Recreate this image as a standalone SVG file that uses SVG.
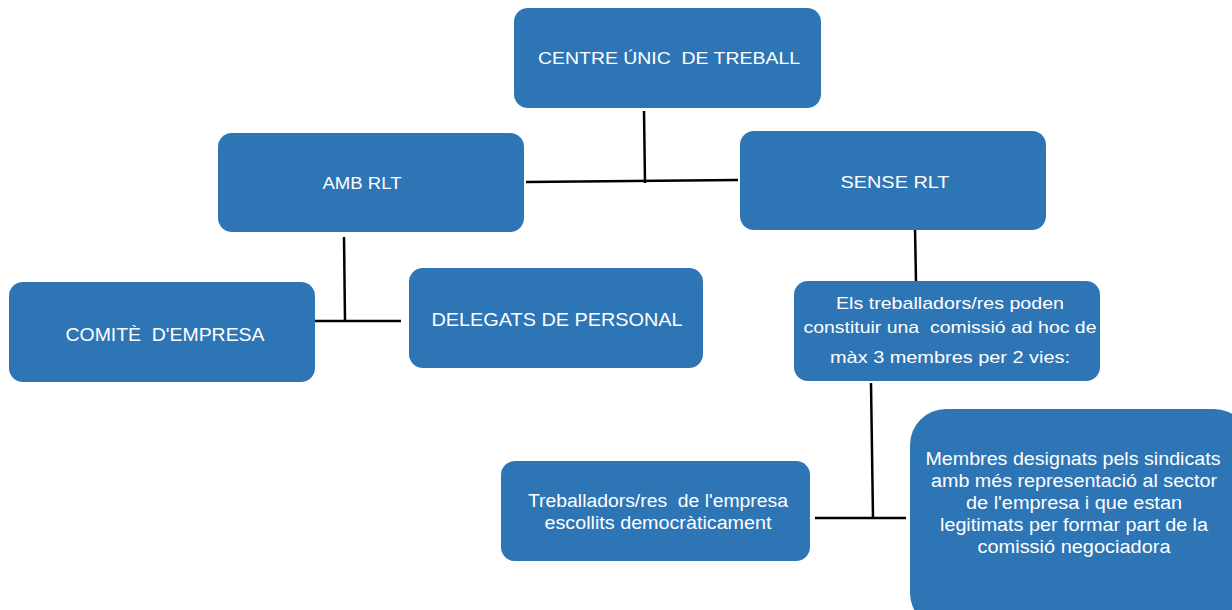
<svg xmlns="http://www.w3.org/2000/svg" width="1232" height="610" viewBox="0 0 1232 610">
<style>
.box{fill:#2E75B6;}
.t{font-family:"Liberation Sans",Arial,sans-serif;font-size:17px;fill:#FFFFFF;text-anchor:middle;}
.n{font-size:18px;}
.c{stroke:#000000;stroke-width:2.5;fill:none;}
</style>
<rect width="1232" height="610" fill="#FFFFFF"/>
<g id="connectors">
<path class="c" d="M644,111 L645,183"/>
<path class="c" d="M526,182 L738,180"/>
<path class="c" d="M344,237 L345,321"/>
<path class="c" d="M312,321 L401,321"/>
<path class="c" d="M915,227 L916,282"/>
<path class="c" d="M871,383 L873,518"/>
<path class="c" d="M815,518 L906,518"/>
</g>
<g id="n1">
<rect class="box" x="514" y="8" width="307" height="100" rx="14"/>
<text class="t" x="669" y="64" textLength="262" lengthAdjust="spacingAndGlyphs" xml:space="preserve">CENTRE ÚNIC  DE TREBALL</text>
</g>
<g id="n2">
<rect class="box" x="218" y="133" width="306" height="99" rx="14"/>
<text class="t" x="362" y="189" textLength="79" lengthAdjust="spacingAndGlyphs">AMB RLT</text>
</g>
<g id="n3">
<rect class="box" x="740" y="131" width="306" height="99" rx="14"/>
<text class="t" x="895" y="188" textLength="109" lengthAdjust="spacingAndGlyphs">SENSE RLT</text>
</g>
<g id="n4">
<rect class="box" x="9" y="282" width="306" height="100" rx="14"/>
<text class="t n" x="165" y="341" textLength="199" lengthAdjust="spacingAndGlyphs" xml:space="preserve">COMITÈ  D'EMPRESA</text>
</g>
<g id="n5">
<rect class="box" x="409" y="268" width="294" height="100" rx="14"/>
<text class="t n" x="557" y="326" textLength="251" lengthAdjust="spacingAndGlyphs">DELEGATS DE PERSONAL</text>
</g>
<g id="n6">
<rect class="box" x="794" y="281" width="306" height="100" rx="14"/>
<text class="t" x="950" y="309" textLength="228" lengthAdjust="spacingAndGlyphs">Els treballadors/res poden</text>
<text class="t" x="950" y="333" textLength="293" lengthAdjust="spacingAndGlyphs" xml:space="preserve">constituir una  comissió ad hoc de</text>
<text class="t" x="950" y="363" textLength="240" lengthAdjust="spacingAndGlyphs">màx 3 membres per 2 vies:</text>
</g>
<g id="n7">
<rect class="box" x="501" y="461" width="309" height="100" rx="14"/>
<text class="t n" x="658" y="507" textLength="260" lengthAdjust="spacingAndGlyphs" xml:space="preserve">Treballadors/res  de l'empresa</text>
<text class="t n" x="658" y="529" textLength="227" lengthAdjust="spacingAndGlyphs">escollits democràticament</text>
</g>
<g id="n8">
<rect class="box" x="910" y="409" width="340" height="220" rx="36"/>
<text class="t n" x="1073" y="465" textLength="295" lengthAdjust="spacingAndGlyphs">Membres designats pels sindicats</text>
<text class="t n" x="1074" y="487" textLength="286" lengthAdjust="spacingAndGlyphs">amb més representació al sector</text>
<text class="t n" x="1074" y="509" textLength="216" lengthAdjust="spacingAndGlyphs">de l'empresa i que estan</text>
<text class="t n" x="1074" y="531" textLength="268" lengthAdjust="spacingAndGlyphs">legitimats per formar part de la</text>
<text class="t n" x="1074" y="553" textLength="193" lengthAdjust="spacingAndGlyphs">comissió negociadora</text>
</g>
</svg>
